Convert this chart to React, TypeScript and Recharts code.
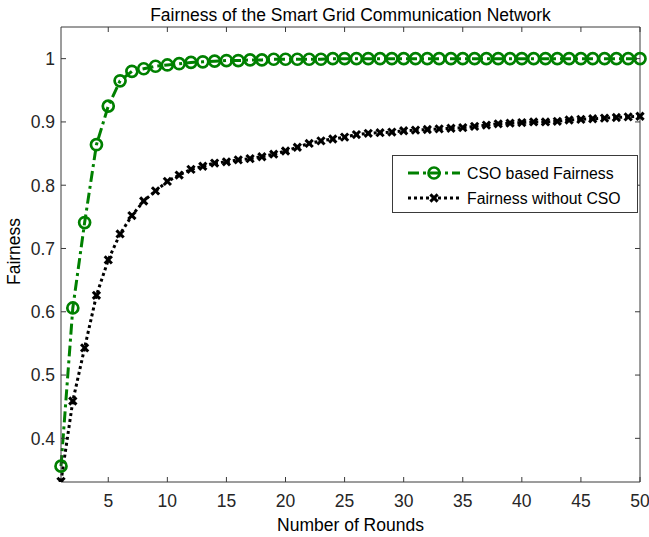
import React from 'react';
import { LineChart, Line, XAxis, YAxis, Legend, Label } from 'recharts';

// Communication rounds (x axis)
const rounds = [
  1, 2, 3, 4, 5, 6, 7, 8, 9, 10,
  11, 12, 13, 14, 15, 16, 17, 18, 19, 20,
  21, 22, 23, 24, 25, 26, 27, 28, 29, 30,
  31, 32, 33, 34, 35, 36, 37, 38, 39, 40,
  41, 42, 43, 44, 45, 46, 47, 48, 49, 50,
];

// Fairness with the CSO scheme
const csoFairness = [
  0.356, 0.606, 0.741, 0.864, 0.925, 0.965, 0.980, 0.984, 0.988, 0.990,
  0.992, 0.994, 0.995, 0.996, 0.997, 0.997, 0.998, 0.998, 0.999, 0.999,
  0.999, 0.999, 0.999, 1.0, 1.0, 1.0, 1.0, 1.0, 1.0, 1.0,
  1.0, 1.0, 1.0, 1.0, 1.0, 1.0, 1.0, 1.0, 1.0, 1.0,
  1.0, 1.0, 1.0, 1.0, 1.0, 1.0, 1.0, 1.0, 1.0, 1.0,
];

// Fairness without CSO
const plainFairness = [
  0.332, 0.459, 0.543, 0.626, 0.682, 0.723, 0.752, 0.775, 0.791, 0.806,
  0.816, 0.825, 0.830, 0.835, 0.837, 0.840, 0.842, 0.845, 0.849, 0.854,
  0.860, 0.866, 0.870, 0.873, 0.876, 0.880, 0.882, 0.883, 0.884, 0.886,
  0.887, 0.888, 0.889, 0.890, 0.891, 0.893, 0.895, 0.897, 0.898, 0.899,
  0.900, 0.900, 0.901, 0.903, 0.904, 0.905, 0.906, 0.907, 0.908, 0.909,
];

const xTicks = [5, 10, 15, 20, 25, 30, 35, 40, 45, 50];
const yTicks = [0.4, 0.5, 0.6, 0.7, 0.8, 0.9, 1];

const seriesNames = ['CSO based Fairness', 'Fairness without CSO'];
const titleText = 'Fairness of the Smart Grid Communication Network';
const xLabelText = 'Number of Rounds';
const yLabelText = 'Fairness';

const data = rounds.map((r, i) => ({
  round: r,
  cso: csoFairness[i],
  plain: plainFairness[i],
}));

const FONT = '"Liberation Sans", Arial, Helvetica, sans-serif';
const AXIS = '#3a3a3a';
const TEXT = '#262626';
const GREEN = '#008000';
const TICK_LEN = 5;
const FS = 17.5;

const fmtY = (v: number) => (v === 1 ? '1' : v.toFixed(1));

const BottomTick = (p: any) => (
  <g>
    <line x1={p.x} y1={p.y} x2={p.x} y2={p.y - TICK_LEN} stroke={AXIS} strokeWidth={1} />
    <text x={p.x} y={p.y + 25} textAnchor="middle" fontSize={FS} fontFamily={FONT} fill={TEXT}>
      {p.payload.value}
    </text>
  </g>
);

const TopTick = (p: any) => (
  <line x1={p.x} y1={p.y} x2={p.x} y2={p.y + TICK_LEN} stroke={AXIS} strokeWidth={1} />
);

const LeftTick = (p: any) => (
  <g>
    <line x1={p.x} y1={p.y} x2={p.x + TICK_LEN} y2={p.y} stroke={AXIS} strokeWidth={1} />
    <text x={p.x - 6} y={p.y} dy="0.36em" textAnchor="end" fontSize={FS} fontFamily={FONT} fill={TEXT}>
      {fmtY(p.payload.value)}
    </text>
  </g>
);

const RightTick = (p: any) => (
  <line x1={p.x} y1={p.y} x2={p.x - TICK_LEN} y2={p.y} stroke={AXIS} strokeWidth={1} />
);

const CircleDot = (p: any) => (
  <circle key={`c-${p.index}`} cx={p.cx} cy={p.cy} r={5.5} fill="none" stroke={GREEN} strokeWidth={2.7} />
);

const CrossMark = ({ cx, cy, s = 3.6 }: { cx: number; cy: number; s?: number }) => (
  <g>
    <line x1={cx - s} y1={cy - s} x2={cx + s} y2={cy + s} stroke="#000" strokeWidth={3} />
    <line x1={cx - s} y1={cy + s} x2={cx + s} y2={cy - s} stroke="#000" strokeWidth={3} />
  </g>
);

const CrossDot = (p: any) => (
  <g key={`x-${p.index}`}>
    <CrossMark cx={p.cx} cy={p.cy} />
  </g>
);

const LegendBox = () => (
  <svg width={246} height={58} style={{ display: 'block' }}>
    <rect x={0.5} y={0.5} width={245} height={57} fill="#fff" stroke={AXIS} strokeWidth={1} />
    <line x1={16} y1={18} x2={68} y2={18} stroke={GREEN} strokeWidth={3} strokeDasharray="11 4 3 4" />
    <circle cx={42} cy={18} r={5.5} fill="none" stroke={GREEN} strokeWidth={2.7} />
    <text x={75} y={18} dy="0.36em" fontSize={15.8} fontFamily={FONT} fill="#000">{seriesNames[0]}</text>
    <line x1={16} y1={43} x2={68} y2={43} stroke="#000" strokeWidth={3} strokeDasharray="3 3" />
    <CrossMark cx={42} cy={43} />
    <text x={75} y={43} dy="0.36em" fontSize={15.8} fontFamily={FONT} fill="#000">{seriesNames[1]}</text>
  </svg>
);

const TitleLabel = (props: any) => {
  const vb = props.viewBox || {};
  return (
    <text x={vb.x + vb.width / 2} y={21} textAnchor="middle" fontSize={FS} fontFamily={FONT} fill="#000">
      {titleText}
    </text>
  );
};

const XTitle = (props: any) => {
  const vb = props.viewBox || {};
  return (
    <text x={vb.x + vb.width / 2} y={531} textAnchor="middle" fontSize={FS} fontFamily={FONT} fill="#000">
      {xLabelText}
    </text>
  );
};

const YTitle = (props: any) => {
  const vb = props.viewBox || {};
  const cy = vb.y + vb.height / 2 - 3;
  return (
    <text x={14} y={cy} transform={`rotate(-90 14 ${cy})`} dy="0.36em" textAnchor="middle" fontSize={FS} fontFamily={FONT} fill="#000">
      {yLabelText}
    </text>
  );
};

export default function App() {
  return (
    <div style={{ position: 'absolute', left: 0, top: 0, width: 649, height: 537, background: '#fff' }}>
      <LineChart
        width={649}
        height={537}
        data={data}
        margin={{ top: 26, right: 8, bottom: 54, left: 60 }}
      >
        <XAxis
          dataKey="round"
          type="number"
          domain={[1, 50]}
          ticks={xTicks}
          height={1}
          tickLine={false}
          tickSize={0}
          tickMargin={0}
          axisLine={{ stroke: AXIS, strokeWidth: 1 }}
          tick={BottomTick}
          interval={0}
        >
          <Label content={XTitle} />
        </XAxis>
        <XAxis
          xAxisId="top"
          orientation="top"
          dataKey="round"
          type="number"
          domain={[1, 50]}
          ticks={xTicks}
          height={1}
          tickLine={false}
          tickSize={0}
          tickMargin={0}
          axisLine={{ stroke: AXIS, strokeWidth: 1 }}
          tick={TopTick}
          interval={0}
        >
          <Label content={TitleLabel} />
        </XAxis>
        <YAxis
          type="number"
          domain={[0.331, 1.05]}
          ticks={yTicks}
          width={1}
          tickLine={false}
          tickSize={0}
          tickMargin={0}
          axisLine={{ stroke: AXIS, strokeWidth: 1 }}
          tick={LeftTick}
          interval={0}
          allowDataOverflow
        >
          <Label content={YTitle} />
        </YAxis>
        <YAxis
          yAxisId="right"
          orientation="right"
          type="number"
          domain={[0.331, 1.05]}
          ticks={yTicks}
          width={1}
          tickLine={false}
          tickSize={0}
          tickMargin={0}
          axisLine={{ stroke: AXIS, strokeWidth: 1 }}
          tick={RightTick}
          interval={0}
          allowDataOverflow
        />
        <Line
          type="linear"
          dataKey="cso"
          name={seriesNames[0]}
          stroke={GREEN}
          strokeWidth={3}
          strokeDasharray="11 4 3 4"
          dot={CircleDot}
          activeDot={false}
          isAnimationActive={false}
        />
        <Line
          type="linear"
          dataKey="plain"
          name={seriesNames[1]}
          stroke="#000"
          strokeWidth={3}
          strokeDasharray="3 3"
          dot={CrossDot}
          activeDot={false}
          isAnimationActive={false}
        />
        <Legend
          layout="horizontal"
          verticalAlign="middle"
          align="center"
          content={LegendBox}
          wrapperStyle={{ position: 'absolute', left: 392, top: 155, width: 246, height: 58 }}
        />
      </LineChart>
    </div>
  );
}
